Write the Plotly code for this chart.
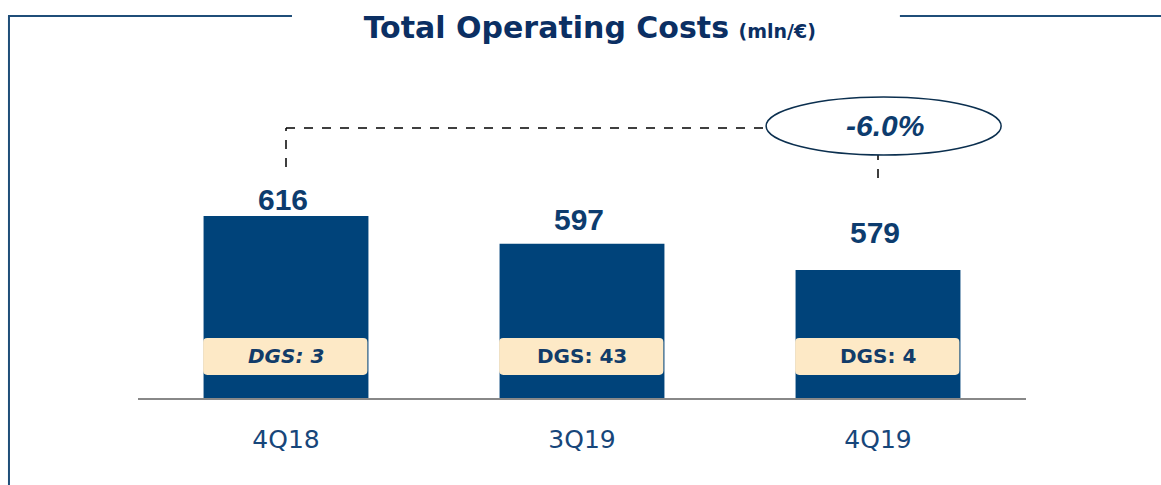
import plotly.graph_objects as go

# data
quarters = ['4Q18', '3Q19', '4Q19']
costs = [616, 597, 579]
dgs = [3, 43, 4]
dgs_italic = [True, False, False]
label_lift = [17, 24, 38]   # px gap label centre -> bar top, as in the slide

navy = '#0b2f63'
bar_col = '#00437a'
frame_col = '#1f4e79'
box_col = '#fde9c6'
arial = 'Liberation Sans, Arial, sans-serif'
wide = 'DejaVu Sans, Verdana, sans-serif'

y_lo, y_hi = 491.3, 722.9

fig = go.Figure(go.Bar(
    x=quarters, y=costs, width=0.557,
    marker=dict(color=bar_col, line=dict(width=0)),
    hoverinfo='skip'
))

shapes = []
annots = []

# value labels + DGS boxes
for i, (q, v) in enumerate(zip(quarters, costs)):
    annots.append(dict(x=i - 0.01, y=v, xref='x', yref='y', text='<b>%d</b>' % v,
                       showarrow=False, yanchor='middle', yshift=label_lift[i],
                       font=dict(size=30, color='#0d3c6e', family=arial)))
    # rounded box
    x0, x1 = i - 0.28, i + 0.275
    y0, y1 = 507.1, 532.4
    rx, ry = 0.014, 2.8
    path = ('M %f,%f L %f,%f Q %f,%f %f,%f L %f,%f Q %f,%f %f,%f '
            'L %f,%f Q %f,%f %f,%f L %f,%f Q %f,%f %f,%f Z') % (
        x0 + rx, y0, x1 - rx, y0, x1, y0, x1, y0 + ry,
        x1, y1 - ry, x1, y1, x1 - rx, y1,
        x0 + rx, y1, x0, y1, x0, y1 - ry,
        x0, y0 + ry, x0, y0, x0 + rx, y0)
    shapes.append(dict(type='path', path=path, xref='x', yref='y',
                       fillcolor=box_col, line=dict(width=0), layer='above'))
    txt = 'DGS: %d' % dgs[i]
    if dgs_italic[i]:
        txt = '<i>' + txt + '</i>'
    annots.append(dict(x=i, y=(y0 + y1) / 2, xref='x', yref='y', text='<b>' + txt + '</b>',
                       showarrow=False, yanchor='middle',
                       font=dict(size=20, color='#123c69', family=wide)))

# change bracket
chg = (costs[-1] / costs[0] - 1) * 100
top = costs[0] + 60.3
dash = dict(color='black', width=1.5, dash='dash')
shapes.append(dict(type='line', xref='x', yref='y', x0=0, x1=0, y0=costs[0] + 33.6, y1=top, line=dash))
shapes.append(dict(type='line', xref='x', yref='y', x0=0, x1=1.622, y0=top, y1=top, line=dash))
shapes.append(dict(type='line', xref='x', yref='y', x0=2.0, x1=2.0, y0=costs[-1] + 63, y1=costs[-1] + 78.8, line=dash))
shapes.append(dict(type='circle', xref='x', yref='y', x0=1.622, x1=2.416, y0=657.8, y1=697.6,
                   fillcolor='white', line=dict(color='#0b2f4f', width=1.5)))
annots.append(dict(x=2.025, y=677.7, xref='x', yref='y', text='<b><i>%.1f%%</i></b>' % chg,
                   showarrow=False, font=dict(size=30, color='#0d3c6e', family=arial)))

# frame lines
fline = dict(color=frame_col, width=2)
shapes.append(dict(type='line', xref='paper', yref='paper', x0=-0.1464, x1=0.1734, y0=1.1302, y1=1.1302, line=fline))
shapes.append(dict(type='line', xref='paper', yref='paper', x0=0.858, x1=1.16, y0=1.1302, y1=1.1302, line=fline))
shapes.append(dict(type='line', xref='paper', yref='paper', x0=-0.1453, x1=-0.1453, y0=1.1302, y1=-0.3, line=fline))

fig.update_layout(
    width=1161, height=485,
    margin=dict(l=138, r=135, t=60, b=87),
    paper_bgcolor='white', plot_bgcolor='white',
    showlegend=False,
    title=dict(text="<b>Total Operating Costs</b> <b><span style='font-size:19px'>(mln/€)</span></b>",
               x=0.508, xanchor='center', y=0.944, yanchor='middle',
               font=dict(size=30, color=navy, family=wide)),
    xaxis=dict(showgrid=False, showline=True, linecolor='#888888', linewidth=2,
               ticks='', ticklabelstandoff=18, range=[-0.5, 2.5],
               tickfont=dict(size=25, color='#17467a', family=wide)),
    yaxis=dict(range=[y_lo, y_hi], visible=False, showgrid=False),
    shapes=shapes,
    annotations=annots,
)

fig.write_html("out.html", config={'displayModeBar': False},
               post_script="document.body.style.margin='0';")
